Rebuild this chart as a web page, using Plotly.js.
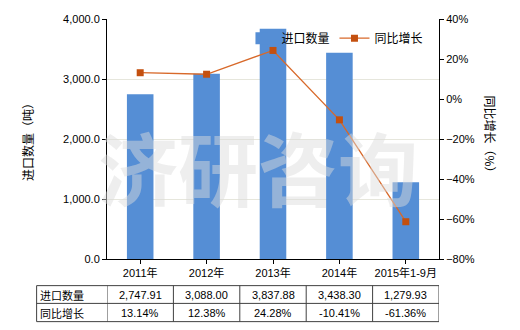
<!DOCTYPE html>
<html>
<head>
<meta charset="utf-8">
<script src="https://cdn.plot.ly/plotly-3.0.1.min.js"></script>
<style>html,body{margin:0;padding:0;background:#fff;}#chart{width:520px;height:330px;}</style>
</head>
<body>
<div id="chart"></div>
<script>
const categories = ['2011年', '2012年', '2013年', '2014年', '2015年1-9月'];
const importQty = [2747.91, 3088.00, 3837.88, 3438.30, 1279.93];
const yoyGrowth = [13.14, 12.38, 24.28, -10.41, -61.36];
const seriesNames = ['进口数量', '同比增长'];
const leftTitle = '进口数量（吨）';
const rightTitle = '同比增长（%）';
const watermark = '济研咨询';

const FONT = 'Liberation Sans, Noto Sans CJK SC, sans-serif';
const CJK = 'Noto Sans CJK SC, sans-serif';

const fmtQty = v => v.toLocaleString('en-US', {minimumFractionDigits: 2, maximumFractionDigits: 2});
const fmtPct = v => v.toFixed(2) + '%';

const traces = [
  {
    type: 'bar', name: seriesNames[0], x: categories, y: importQty,
    marker: {color: '#558ED5'}, width: 0.4, yaxis: 'y'
  },
  {
    type: 'scatter', mode: 'lines+markers', name: seriesNames[1], x: categories, y: yoyGrowth,
    yaxis: 'y2', line: {color: '#D8692A', width: 1.3},
    marker: {symbol: 'square', size: 7, color: '#C4500F'}
  }
];

// table geometry (paper coords)
const tblLeft = -0.212, rowTop = -0.111, rowMid = -0.185, rowBot = -0.261;
const shapes = [];
[rowTop, rowMid, rowBot].forEach(y => shapes.push({
  type: 'line', xref: 'paper', yref: 'paper', x0: tblLeft, x1: 1, y0: y, y1: y,
  line: {color: '#404040', width: 1}
}));
shapes.push({type: 'line', xref: 'paper', yref: 'paper', x0: tblLeft, x1: tblLeft, y0: rowTop, y1: rowBot, line: {color: '#404040', width: 1}});
for (let i = 0; i <= categories.length; i++) {
  shapes.push({type: 'line', xref: 'x', yref: 'paper', x0: i - 0.5, x1: i - 0.5, y0: rowTop, y1: rowBot, line: {color: '#404040', width: 1}});
}

const annotations = [];
const row1y = (rowTop + rowMid) / 2, row2y = (rowMid + rowBot) / 2;
annotations.push({xref: 'paper', yref: 'paper', x: tblLeft + 0.005, y: row1y, xanchor: 'left', yanchor: 'middle', text: seriesNames[0], showarrow: false, font: {family: CJK, size: 11, color: '#000'}});
annotations.push({xref: 'paper', yref: 'paper', x: tblLeft + 0.005, y: row2y, xanchor: 'left', yanchor: 'middle', text: seriesNames[1], showarrow: false, font: {family: CJK, size: 11, color: '#000'}});
categories.forEach((c, i) => {
  annotations.push({xref: 'x', yref: 'paper', x: i, y: row1y, yanchor: 'middle', text: fmtQty(importQty[i]), showarrow: false, font: {family: FONT, size: 11, color: '#000'}});
  annotations.push({xref: 'x', yref: 'paper', x: i, y: row2y, yanchor: 'middle', text: fmtPct(yoyGrowth[i]), showarrow: false, font: {family: FONT, size: 11, color: '#000'}});
});
// axis titles
annotations.push({xref: 'paper', yref: 'paper', x: -0.241, y: 0.5, xanchor: 'center', yanchor: 'middle', text: leftTitle, textangle: -90, showarrow: false, font: {family: CJK, size: 12, color: '#000'}});
annotations.push({xref: 'paper', yref: 'paper', x: 1.154, y: 0.51, xanchor: 'center', yanchor: 'middle', text: rightTitle, textangle: 90, showarrow: false, font: {family: CJK, size: 12, color: '#000'}});
// watermark
annotations.push({xref: 'paper', yref: 'paper', x: 0.455, y: 0.39, xanchor: 'center', yanchor: 'middle', text: '<b>' + watermark + '</b>', showarrow: false, font: {family: CJK, size: 80, color: 'rgba(220,220,220,0.48)'}});

const layout = {
  width: 520, height: 330,
  margin: {l: 107, r: 81, t: 19, b: 71, pad: 0},
  paper_bgcolor: '#fff', plot_bgcolor: '#fff',
  font: {family: FONT, size: 11, color: '#000'},
  bargap: 0.6,
  showlegend: true,
  legend: {orientation: 'h', x: 0.405, y: 0.92, xanchor: 'left', yanchor: 'middle', bgcolor: 'rgba(0,0,0,0)', font: {family: CJK, size: 12, color: '#000'}},
  xaxis: {
    type: 'category', range: [-0.5, 4.5], showline: true, linecolor: '#000', linewidth: 1,
    ticks: 'outside', ticklen: 4, tickcolor: '#000', showgrid: false, zeroline: false,
    tickfont: {family: FONT, size: 11, color: '#000'}
  },
  yaxis: {
    range: [0, 4000], dtick: 1000, tickformat: ',.1f', showline: true, linecolor: '#000', linewidth: 1,
    ticks: 'outside', ticklen: 4, tickcolor: '#000', showgrid: true, gridcolor: '#E6E6DC', zeroline: false,
    tickfont: {family: FONT, size: 11, color: '#000'}
  },
  yaxis2: {
    overlaying: 'y', side: 'right', range: [-80, 40], dtick: 20, ticksuffix: '%', showline: true,
    linecolor: '#000', linewidth: 1, ticks: 'outside', ticklen: 4, tickcolor: '#000', showgrid: false, zeroline: false,
    tickfont: {family: FONT, size: 11, color: '#000'}
  },
  shapes: shapes,
  annotations: annotations
};

Plotly.newPlot('chart', traces, layout, {staticPlot: true, displayModeBar: false});
</script>
</body>
</html>
